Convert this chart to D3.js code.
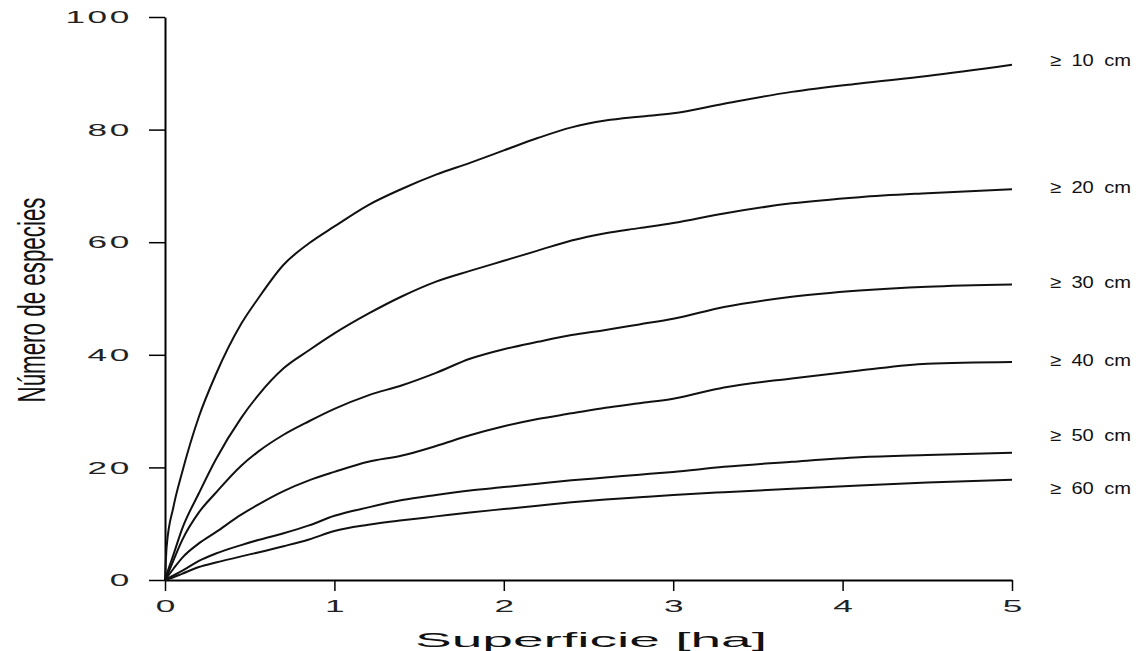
<!DOCTYPE html>
<html>
<head>
<meta charset="utf-8">
<script src="https://cdn.jsdelivr.net/npm/d3@7"></script>
<style>
  html, body { margin: 0; padding: 0; background: #fff; }
  svg { display: block; }
</style>
</head>
<body>
<script>
// sampled surface (ha) shared by all curves
const area = [0, 0.01, 0.05, 0.1, 0.2, 0.3, 0.45, 0.55, 0.7, 0.85, 1.0, 1.2, 1.4, 1.6, 1.8,
    2.0, 2.2, 2.4, 2.6, 2.8, 3.0, 3.3, 3.7, 4.1, 4.5, 5.0];

// number of species per diameter class
const dbh10 = [0, 6, 13, 19, 29, 36.5, 45.5, 50, 56, 59.8, 62.8, 66.6, 69.5, 72, 74.1,
    76.3, 78.5, 80.4, 81.6, 82.3, 82.9, 84.6, 86.7, 88.2, 89.5, 91.5];
const dbh20 = [0, 1, 4.5, 9, 15.4, 21.4, 28.8, 32.8, 37.6, 40.8, 43.8, 47.3, 50.4, 53, 54.9,
    56.7, 58.5, 60.3, 61.6, 62.5, 63.4, 65.1, 66.9, 68, 68.7, 69.4];
const dbh30 = [0, 0.6, 3.5, 7, 12, 15.5, 20.3, 22.8, 25.8, 28.2, 30.4, 32.8, 34.6, 36.8, 39.3,
    41, 42.3, 43.5, 44.4, 45.4, 46.4, 48.5, 50.3, 51.4, 52.1, 52.5];
const dbh40 = [0, 0.4, 2, 3.9, 6.5, 8.5, 11.6, 13.4, 15.8, 17.7, 19.2, 21, 22.1, 23.8, 25.7,
    27.3, 28.6, 29.6, 30.6, 31.4, 32.2, 34.2, 35.8, 37.2, 38.4, 38.7];
const dbh50 = [0, 0.2, 0.8, 1.6, 3.4, 4.7, 6.2, 7.1, 8.3, 9.7, 11.4, 12.9, 14.2, 15.1, 15.9,
    16.5, 17.1, 17.7, 18.2, 18.7, 19.2, 20.1, 21, 21.8, 22.2, 22.6];
const dbh60 = [0, 0.1, 0.5, 1.1, 2.3, 3.1, 4.2, 4.9, 6, 7.2, 8.7, 9.8, 10.6, 11.3, 12,
    12.6, 13.2, 13.8, 14.3, 14.7, 15.1, 15.6, 16.2, 16.8, 17.3, 17.8];

const seriesNames = ['≥ 10 cm', '≥ 20 cm', '≥ 30 cm', '≥ 40 cm', '≥ 50 cm', '≥ 60 cm'];
const seriesValues = [dbh10, dbh20, dbh30, dbh40, dbh50, dbh60];

const xTicks = [0, 1, 2, 3, 4, 5];
const yTicks = [0, 20, 40, 60, 80, 100];

const width = 1141;
const height = 651;

// label offsets so the lower labels don't collide (px)
const labelNudge = [-5, -2, -2, -2, -18, 8];

const x = d3.scaleLinear([0, 5], [165, 1012]);
const y = d3.scaleLinear([0, 100], [580, 17]);

const svg = d3.select('body').append('svg')
    .attr('width', width)
    .attr('height', height)
    .attr('viewBox', [0, 0, width, height]);

const wide = 2.2; // horizontal stretch of the tick digits

// Y AXIS
svg.append('g')
    .attr('transform', `translate(${x(0)},0)`)
    .call(d3.axisLeft(y).tickValues(yTicks).tickSize(16).tickSizeOuter(0).tickFormat(d3.format('d')))
    .call((g) => g.select('.domain').attr('stroke-width', 2))
    .call((g) => g.selectAll('.tick line').attr('stroke-width', 1.5))
    .call((g) =>
        g.selectAll('.tick text')
            .attr('font-family', '"Liberation Sans", Arial, sans-serif')
            .attr('font-size', 16)
            .attr('fill', '#222')
            .attr('letter-spacing', 1.2)
            .attr('x', -33 / wide)
            .attr('dy', '0.36em')
            .attr('transform', `scale(${wide},1)`)
    );

// X AXIS
svg.append('g')
    .attr('transform', `translate(0,${y(0)})`)
    .call(d3.axisBottom(x).tickValues(xTicks).tickSize(11).tickSizeOuter(0).tickFormat(d3.format('d')))
    .call((g) => g.select('.domain').attr('stroke-width', 2))
    .call((g) => g.selectAll('.tick line').attr('stroke-width', 1.5))
    .call((g) =>
        g.selectAll('.tick text')
            .attr('font-family', '"Liberation Sans", Arial, sans-serif')
            .attr('font-size', 16)
            .attr('fill', '#222')
            .attr('y', 32)
            .attr('dy', null)
            .attr('transform', `scale(${wide},1)`)
    );

// CURVES
const line = d3.line()
    .x((d) => x(d[0]))
    .y((d) => y(d[1]))
    .curve(d3.curveMonotoneX);

svg.append('g')
    .attr('fill', 'none')
    .attr('stroke', '#111')
    .attr('stroke-width', 2)
    .attr('stroke-linejoin', 'round')
    .selectAll('path')
    .data(seriesValues)
    .join('path')
    .attr('d', (vals) => line(vals.map((v, i) => [area[i], v])));

// SERIES LABELS
svg.append('g')
    .attr('font-family', '"Liberation Sans", Arial, sans-serif')
    .attr('font-size', 17)
    .attr('fill', '#111')
    .selectAll('text')
    .data(seriesNames)
    .join('text')
    .attr('x', x(5) + 38)
    .attr('y', (d, i) => y(seriesValues[i][seriesValues[i].length - 1]) + labelNudge[i])
    .attr('dy', '0.35em')
    .attr('textLength', 81)
    .attr('lengthAdjust', 'spacingAndGlyphs')
    .attr('word-spacing', 4)
    .text((d) => d);

// AXIS TITLES
svg.append('text')
    .attr('x', (415 + 767) / 2)
    .attr('y', 647)
    .attr('text-anchor', 'middle')
    .attr('font-family', '"Liberation Sans", Arial, sans-serif')
    .attr('font-size', 21)
    .attr('fill', '#111')
    .attr('textLength', 352)
    .attr('lengthAdjust', 'spacingAndGlyphs')
    .text('Superficie [ha]');

svg.append('text')
    .attr('transform', 'translate(45,300) rotate(-90)')
    .attr('text-anchor', 'middle')
    .attr('font-family', '"Liberation Sans Narrow", "Liberation Sans", Arial, sans-serif')
    .attr('font-size', 38)
    .attr('fill', '#111')
    .attr('textLength', 205)
    .attr('lengthAdjust', 'spacingAndGlyphs')
    .text('Número de especies');
</script>
</body>
</html>
